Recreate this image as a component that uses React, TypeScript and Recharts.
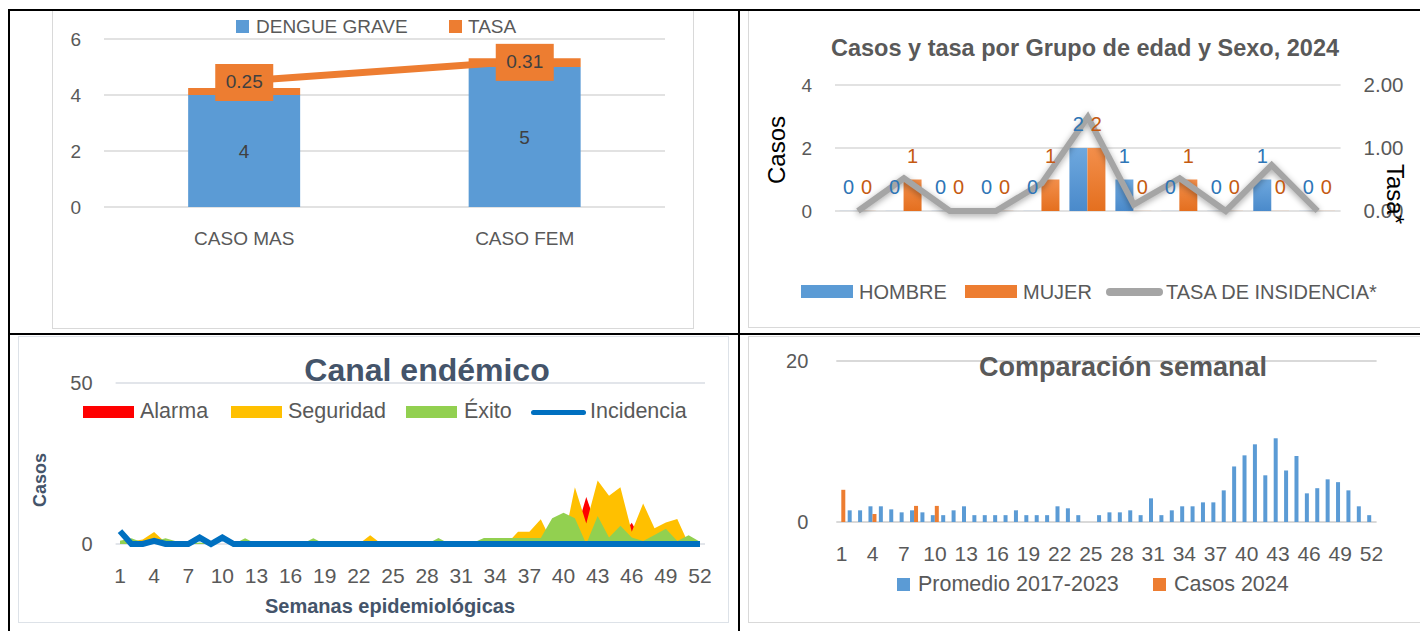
import React from "react"
import { ComposedChart, BarChart, Bar, Line, Area, XAxis, YAxis, CartesianGrid, LabelList } from "recharts"

const FONT = "'Liberation Sans', Arial, sans-serif"
const GRIS = "#595959"
const AZUL = "#5b9bd5"
const NARANJA = "#ed7d31"
const PIZARRA = "#44546a"

// Dengue grave por sexo
const casosSexo = ["CASO MAS", "CASO FEM"]
const dengueGrave = [4, 5]
const tasaSexo = [0.25, 0.31]

// Casos y tasa por grupo de edad
const gruposEdad = ["<1", "1-4", "5-9", "10-14", "15-19", "20-29", "30-39", "40-49", "50-59", "60-64", "65+"]
const hombres = [0, 0, 0, 0, 0, 2, 1, 0, 0, 1, 0]
const mujeres = [0, 1, 0, 0, 1, 2, 0, 1, 0, 0, 0]
const tasaIncidencia = [0, 0.52, 0, 0, 0.44, 1.49, 0.1, 0.52, 0, 0.73, 0]

// Semanas epidemiologicas
const semanas = [
  "1", "2", "3", "4", "5", "6", "7", "8", "9", "10", "11", "12", "13",
  "14", "15", "16", "17", "18", "19", "20", "21", "22", "23", "24", "25", "26",
  "27", "28", "29", "30", "31", "32", "33", "34", "35", "36", "37", "38", "39",
  "40", "41", "42", "43", "44", "45", "46", "47", "48", "49", "50", "51", "52",
]

// Canal endemico
const alarma = [
  0, 0, 0, 0, 0, 0, 0, 0, 0, 0, 0, 0, 0,
  0, 0, 0, 0, 0, 0, 0, 0, 0, 0, 0, 0, 0,
  0, 0, 0, 0, 0, 0, 0, 0, 0, 0, 0, 0, 0,
  0, 2.6, 14.6, 4.3, 3, 1.9, 6.6, 0, 0, 0, 0, 0, 0,
]
const seguridad = [
  0.5, 0.8, 1.4, 3.7, 0.5, 0, 0, 0, 0, 0, 0, 0, 0,
  0, 0, 0, 0, 0, 0, 0, 0, 0, 2.7, 0, 0, 0,
  0, 0, 0, 0, 0, 0, 0, 0, 0, 3.8, 3.8, 7.7, 0.4,
  0.5, 17.6, 6.4, 19.7, 15, 17.6, 3.8, 12.6, 4.9, 6.7, 7.8, 0, 0,
]
const exito = [
  1, 1.8, 0.5, 0.8, 1.8, 0.8, 0, 0.5, 0, 0, 0, 1.8, 0,
  0, 0, 0, 0, 1.8, 0, 0, 0, 0, 0, 0, 0, 0,
  0, 0, 1.9, 0, 0, 0.3, 1.9, 1.9, 1.9, 1.9, 1.9, 1.9, 8,
  9.7, 8, 0, 8.7, 2, 5.7, 2, 0.9, 2.8, 4.7, 0.9, 2.7, 0.7,
]
const incidencia = [
  4, 0, 0, 1, 0, 0, 0, 2, 0, 2, 0, 0, 0,
  0, 0, 0, 0, 0, 0, 0, 0, 0, 0, 0, 0, 0,
  0, 0, 0, 0, 0, 0, 0, 0, 0, 0, 0, 0, 0,
  0, 0, 0, 0, 0, 0, 0, 0, 0, 0, 0, 0, 0,
]

// Comparacion semanal
const promedio = [
  0, 1.45, 1.45, 1.95, 1.95, 1.57, 1.2, 1.45, 1.2, 0.85, 0.85, 1.45, 1.95,
  0.85, 0.85, 0.85, 0.85, 1.45, 0.85, 0.85, 0.85, 1.95, 1.7, 0.85, 0, 0.85,
  1.2, 1.2, 1.45, 0.85, 2.94, 0.85, 1.45, 1.95, 1.95, 2.44, 2.44, 3.93, 6.9,
  8.28, 9.65, 5.8, 10.4, 6.4, 8.2, 3.56, 4.2, 5.3, 4.95, 3.93, 1.95, 0.85,
]
const casos2024 = [
  4, 0, 0, 1, 0, 0, 0, 2, 0, 2, 0, 0, 0,
  0, 0, 0, 0, 0, 0, 0, 0, 0, 0, 0, 0, 0,
  0, 0, 0, 0, 0, 0, 0, 0, 0, 0, 0, 0, 0,
  0, 0, 0, 0, 0, 0, 0, 0, 0, 0, 0, 0, 0,
]

const dataSexo = casosSexo.map((caso, i) => ({ caso, dengue: dengueGrave[i], tasa: tasaSexo[i] }))
const dataEdad = gruposEdad.map((grupo, i) => ({ grupo, hombre: hombres[i], mujer: mujeres[i], tasa: tasaIncidencia[i] }))
const dataCanal = semanas.map((semana, i) => ({
  semana, alarma: alarma[i], seguridad: seguridad[i], exito: exito[i], incidencia: incidencia[i],
}))
const dataSemanal = semanas.map((semana, i) => ({ semana, promedio: promedio[i], casos: casos2024[i] }))

const tick = (size: number, fill = GRIS) => ({ fill, fontSize: size, fontFamily: FONT })

function Txt({ x, y, size, bold, color = GRIS, center, children }: any) {
  return (
    <div style={{
      position: "absolute", left: x, top: y - size / 2, fontSize: size, lineHeight: `${size}px`,
      fontWeight: bold ? 700 : 400, color, whiteSpace: "nowrap",
      transform: center ? "translateX(-50%)" : undefined,
    }}>{children}</div>
  )
}

function Rot({ x, y, size, bold, color = GRIS, angle, children }: any) {
  return (
    <div style={{
      position: "absolute", left: x, top: y, fontSize: size, lineHeight: `${size}px`,
      fontWeight: bold ? 700 : 400, color, whiteSpace: "nowrap",
      transform: `translate(-50%, -50%) rotate(${angle}deg)`,
    }}>{children}</div>
  )
}

function Box({ x, y, w, h, color, r = 0 }: any) {
  return <div style={{ position: "absolute", left: x, top: y, width: w, height: h, background: color, borderRadius: r }} />
}

function Frame({ x, y, w, h, color = "#d9d9d9" }: any) {
  return <div style={{ position: "absolute", left: x, top: y, width: w, height: h, border: `1px solid ${color}`, boxSizing: "border-box" }} />
}

const TasaBox = (p: any) => {
  const vb = p.viewBox || {}
  const x = vb.x ?? p.x
  const y = vb.y ?? p.y
  return (
    <g>
      <rect x={x - 29} y={y - 17} width={58} height={37} fill={NARANJA} />
      <text x={x} y={y + 2} textAnchor="middle" dominantBaseline="middle" fill="#404040" fontSize={19} fontFamily={FONT}>
        {Number(p.value).toFixed(2)}
      </text>
    </g>
  )
}

export default function App() {
  return (
    <div style={{ position: "absolute", left: 0, top: 0, width: 1420, height: 631, background: "#fff", overflow: "hidden", fontFamily: FONT }}>
      <Frame x={52} y={10} w={642} h={319} />
      <Frame x={748} y={10} w={690} h={318} />
      <Frame x={18} y={336} w={711} h={287} color="#dde2e8" />
      <Frame x={748} y={336} w={690} h={287} />

      {/* Dengue grave por sexo */}
      <div style={{ position: "absolute", left: 52, top: 10 }}>
        <ComposedChart width={642} height={319} data={dataSexo} margin={{ top: 29, right: 29, bottom: 92, left: 0 }} barCategoryGap="30%">
          <CartesianGrid vertical={false} stroke="#d9d9d9" strokeWidth={1.5} />
          <XAxis dataKey="caso" axisLine={false} tickLine={false} height={30} tickMargin={19} tick={tick(19)} />
          <YAxis width={52} domain={[0, 6]} ticks={[0, 2, 4, 6]} axisLine={false} tickLine={false} tickMargin={17} tick={tick(19)} />
          <YAxis yAxisId="tasa" hide domain={[-0.125, 0.375]} />
          <Bar dataKey="dengue" stackId="s" fill={AZUL} isAnimationActive={false}>
            <LabelList dataKey="dengue" position="center" fill="#404040" fontSize={19} fontFamily={FONT} />
          </Bar>
          <Bar dataKey="tasa" stackId="s" fill={NARANJA} isAnimationActive={false} />
          <Line yAxisId="tasa" type="linear" dataKey="tasa" stroke={NARANJA} strokeWidth={7} dot={false} activeDot={false} isAnimationActive={false}>
            <LabelList dataKey="tasa" content={TasaBox} />
          </Line>
        </ComposedChart>
      </div>
      <Box x={236} y={20} w={13} h={13} color={AZUL} />
      <Txt x={256} y={26.5} size={19}>DENGUE GRAVE</Txt>
      <Box x={449} y={20} w={13} h={13} color={NARANJA} />
      <Txt x={468} y={26.5} size={19}>TASA</Txt>

      {/* Casos y tasa por grupo de edad */}
      <div style={{ position: "absolute", left: 748, top: 10 }}>
        <ComposedChart width={672} height={318} data={dataEdad} margin={{ top: 75, right: 0, bottom: 117, left: 0 }} barCategoryGap="10%" barGap={0}>
          <defs>
            <linearGradient id="gAzul" x1="0" y1="0" x2="0" y2="1">
              <stop offset="0%" stopColor="#6ea8de" />
              <stop offset="100%" stopColor="#4a8acb" />
            </linearGradient>
            <linearGradient id="gNaranja" x1="0" y1="0" x2="0" y2="1">
              <stop offset="0%" stopColor="#f38f4b" />
              <stop offset="100%" stopColor="#e46f1f" />
            </linearGradient>
          </defs>
          <CartesianGrid vertical={false} stroke="#d9d9d9" strokeWidth={1.5} />
          <XAxis dataKey="grupo" hide />
          <YAxis width={87} domain={[0, 4]} ticks={[0, 2, 4]} axisLine={false} tickLine={false} tickMargin={17} tick={tick(19)} />
          <YAxis yAxisId="tasa" orientation="right" width={79.4} domain={[0, 2]} ticks={[0, 1, 2]}
            tickFormatter={(v: number) => v.toFixed(2)} axisLine={false} tickLine={false} tickMargin={17} tick={tick(20.5)} />
          <Bar dataKey="hombre" fill="url(#gAzul)" minPointSize={0.1} isAnimationActive={false}>
            <LabelList dataKey="hombre" position="top" offset={17} fill="#2e75b6" fontSize={20} fontFamily={FONT} />
          </Bar>
          <Bar dataKey="mujer" fill="url(#gNaranja)" minPointSize={0.1} isAnimationActive={false}>
            <LabelList dataKey="mujer" position="top" offset={17} fill="#c55a11" fontSize={20} fontFamily={FONT} />
          </Bar>
          <Line yAxisId="tasa" type="linear" dataKey="tasa" stroke="#a5a5a5" strokeWidth={6} dot={false} activeDot={false}
            isAnimationActive={false} style={{ filter: "drop-shadow(0px 2px 3px rgba(0,0,0,0.35))" }} />
        </ComposedChart>
      </div>
      <Txt x={1085} y={49} size={23.5} bold center>Casos y tasa por Grupo de edad y Sexo, 2024</Txt>
      <Rot x={777} y={150} size={24} color="#000" angle={-90}>Casos</Rot>
      <Rot x={1395} y={194} size={24} color="#000" angle={90}>Tasa*</Rot>
      <Box x={801} y={285} w={52} h={13} color={AZUL} />
      <Txt x={859} y={291.5} size={20}>HOMBRE</Txt>
      <Box x={965} y={285} w={52} h={13} color={NARANJA} />
      <Txt x={1023} y={291.5} size={20}>MUJER</Txt>
      <Box x={1106} y={287.5} w={57} h={8} r={4} color="#a5a5a5" />
      <Txt x={1166} y={291.5} size={20}>TASA DE INSIDENCIA*</Txt>

      {/* Canal endemico */}
      <div style={{ position: "absolute", left: 18, top: 336 }}>
        <ComposedChart width={711} height={287} data={dataCanal} margin={{ top: 47, right: 24, bottom: 49, left: 0 }}>
          <CartesianGrid vertical={false} stroke="#d9dde3" strokeWidth={1.5} />
          <XAxis dataKey="semana" scale="point" padding={{ left: 4.4, right: 5 }} interval={2} height={30}
            axisLine={false} tickLine={false} tickMargin={18} tick={tick(21)} />
          <YAxis width={97.6} domain={[0, 50]} ticks={[0, 50]} axisLine={false} tickLine={false} tickMargin={17} tick={tick(20)} />
          <Area type="linear" dataKey="alarma" stroke="none" fill="#ff0000" fillOpacity={1} dot={false} activeDot={false} isAnimationActive={false} />
          <Area type="linear" dataKey="seguridad" stroke="none" fill="#ffc000" fillOpacity={1} dot={false} activeDot={false} isAnimationActive={false} />
          <Area type="linear" dataKey="exito" stroke="none" fill="#92d050" fillOpacity={1} dot={false} activeDot={false} isAnimationActive={false} />
          <Line type="linear" dataKey="incidencia" stroke="#0070c0" strokeWidth={6} dot={false} activeDot={false} isAnimationActive={false} />
        </ComposedChart>
      </div>
      <Txt x={427} y={370} size={32} bold color={PIZARRA} center>Canal endémico</Txt>
      <Box x={83} y={406} w={51} h={12} color="#ff0000" />
      <Txt x={140} y={412} size={21.5}>Alarma</Txt>
      <Box x={231} y={406} w={51} h={12} color="#ffc000" />
      <Txt x={288} y={412} size={21.5}>Seguridad</Txt>
      <Box x={406} y={406} w={51} h={12} color="#92d050" />
      <Txt x={464} y={412} size={21.5}>Éxito</Txt>
      <Box x={531} y={409.5} w={55} h={5} r={2.5} color="#0070c0" />
      <Txt x={590} y={412} size={21.5}>Incidencia</Txt>
      <Rot x={40} y={480} size={18} bold color={PIZARRA} angle={-90}>Casos</Rot>
      <Txt x={390} y={606} size={20} bold color={PIZARRA} center>Semanas epidemiológicas</Txt>

      {/* Comparacion semanal */}
      <div style={{ position: "absolute", left: 748, top: 336 }}>
        <BarChart width={672} height={287} data={dataSemanal} margin={{ top: 25, right: 43.4, bottom: 71, left: 0 }} barGap={0} barSize={4}>
          <CartesianGrid vertical={false} stroke="#d9d9d9" strokeWidth={2} />
          <XAxis dataKey="semana" interval={2} height={30} axisLine={false} tickLine={false} tickMargin={18} tick={tick(21)} />
          <YAxis width={88.3} domain={[0, 20]} ticks={[0, 20]} axisLine={false} tickLine={false} tickMargin={22} tick={tick(20)} />
          <Bar dataKey="promedio" fill={AZUL} isAnimationActive={false} />
          <Bar dataKey="casos" fill={NARANJA} isAnimationActive={false} />
        </BarChart>
      </div>
      <Txt x={1123} y={367} size={27} bold center>Comparación semanal</Txt>
      <Box x={897} y={578} w={13} h={13} color={AZUL} />
      <Txt x={918} y={585} size={21.5}>Promedio 2017-2023</Txt>
      <Box x={1153} y={578} w={13} h={13} color={NARANJA} />
      <Txt x={1174} y={585} size={21.5}>Casos 2024</Txt>

      {/* bordes de la tabla */}
      <Box x={8} y={9} w={1412} h={2} color="#000" />
      <Box x={8} y={9} w={2} h={622} color="#000" />
      <Box x={738} y={9} w={2} h={622} color="#000" />
      <Box x={8} y={333} w={1412} h={2} color="#000" />
    </div>
  )
}
